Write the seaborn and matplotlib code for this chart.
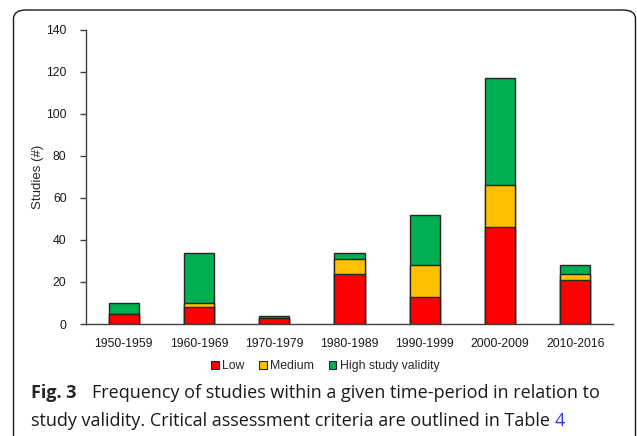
import numpy as np
import pandas as pd
import seaborn as sns
import matplotlib.pyplot as plt
from matplotlib.patches import FancyBboxPatch, Patch

# データ
periods = ['1950-1959', '1960-1969', '1970-1979', '1980-1989', '1990-1999', '2000-2009', '2010-2016']
low = [5, 8, 3, 24, 13, 46, 21]
medium = [0, 2, 0, 7, 15, 20, 3]
high = [5, 24, 1, 3, 24, 51, 4]
series_names = ['Low', 'Medium', 'High study validity']
colors = ['#FF0000', '#FFC000', '#00B050']

sns.set_style('white')
plt.rcParams['font.family'] = ['Liberation Sans', 'DejaVu Sans']

df = pd.DataFrame({'period': periods, 'low': low, 'medium': medium, 'high': high})
df['low_med'] = df['low'] + df['medium']
df['total'] = df['low_med'] + df['high']

fig = plt.figure(figsize=(6.37, 4.36), dpi=100)
ax = fig.add_axes([86 / 637, 1 - 324 / 436, 527 / 637, 294 / 436])

# 積み上げ棒 (合計から順に重ねて描く)
for col, c in zip(['total', 'low_med', 'low'], colors[::-1]):
    sns.barplot(data=df, x='period', y=col, color=c, width=0.4, saturation=1,
                edgecolor='#262626', linewidth=1.0, ax=ax)

ax.set_ylim(0, 140)
ax.set_yticks(range(0, 141, 20))
ax.set_xlim(-0.5, len(periods) - 0.5)
ax.set_xlabel('')
ax.set_ylabel('Studies (#)', fontsize=9.5, color='#262626')
ax.yaxis.set_label_coords(-0.08, 0.5)
for s in ['top', 'right']:
    ax.spines[s].set_visible(False)
for s in ['left', 'bottom']:
    ax.spines[s].set_color('#404040')
    ax.spines[s].set_linewidth(1.0)
ax.tick_params(axis='y', length=4, width=1, color='#404040', pad=10, labelsize=8.8, labelcolor='#1a1a1a', left=True)
ax.tick_params(axis='x', length=0, pad=10, labelsize=8.8, labelcolor='#1a1a1a')

handles = [Patch(facecolor=c, edgecolor='#262626', linewidth=0.8) for c in colors]
fig.legend(handles, series_names, loc='center', bbox_to_anchor=(325 / 637, 1 - 366 / 436),
           ncol=3, frameon=False, fontsize=8.8, handlelength=0.65, handleheight=0.65,
           handletextpad=0.25, columnspacing=1.2)

# 外枠
box = FancyBboxPatch((13.5 / 637, -30 / 436), 622 / 637, 456 / 436,
                     boxstyle='round,pad=0,rounding_size=0.02', transform=fig.transFigure,
                     fill=False, edgecolor='#1a1a1a', linewidth=1.0, clip_on=False)
fig.add_artist(box)

# キャプション
cap_font = ['Open Sans', 'DejaVu Sans']
cap_size = 13
fig.canvas.draw()
r = fig.canvas.get_renderer()
y1 = 1 - 393 / 436
y2 = 1 - 421 / 436
t = fig.text(31 / 637, y1, 'Fig. 3', fontsize=cap_size, fontweight='bold', family=cap_font, va='center')
bb = t.get_window_extent(renderer=r)
fig.text((bb.x1 + 16) / fig.bbox.width, y1, 'Frequency of studies within a given time-period in relation to',
         fontsize=cap_size, family=cap_font, va='center', color='#1a1a1a')
t2 = fig.text(31 / 637, y2, 'study validity. Critical assessment criteria are outlined in Table ',
              fontsize=cap_size, family=cap_font, va='center', color='#1a1a1a')
bb = t2.get_window_extent(renderer=r)
fig.text(bb.x1 / fig.bbox.width, y2, '4', fontsize=cap_size, family=cap_font, va='center', color='#3333ff')

fig.savefig('out.png', dpi=100)
